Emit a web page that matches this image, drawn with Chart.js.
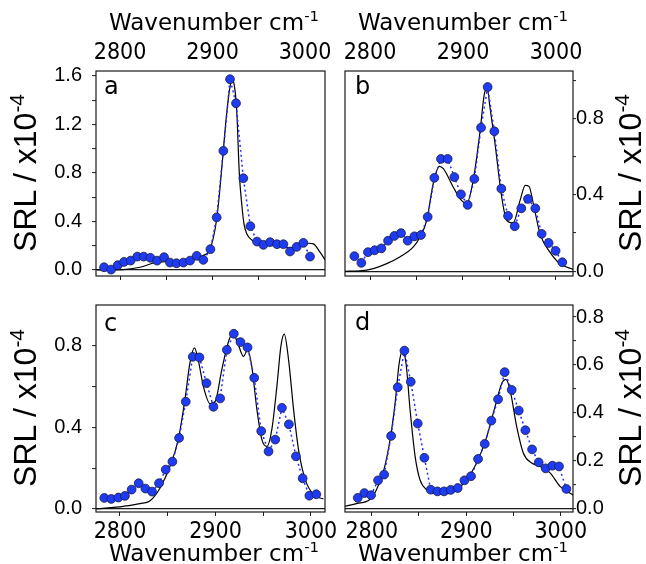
<!DOCTYPE html>
<html>
<head>
<meta charset="utf-8">
<script src="https://cdn.jsdelivr.net/npm/chart.js@4.4.1/dist/chart.umd.min.js"></script>
<style>
    body { margin: 0; background: #fff; }
    #wrap { position: relative; width: 646px; height: 564px; overflow: hidden; }
    canvas { position: absolute; left: 0; top: 0; }
    .xt { position: absolute; font-family: "DejaVu Sans"; font-size: 23px; line-height: 23px; white-space: nowrap; transform: translateX(-50%); color: #000; }
    .yt { position: absolute; font-family: "Liberation Sans"; font-size: 32px; line-height: 32px; white-space: nowrap; transform: translate(-50%, -50%) rotate(-90deg); color: #000; }
    .sup { font-size: 0.65em; position: relative; top: -0.6em; }
    .lab { position: absolute; font-family: "DejaVu Sans"; font-size: 24px; line-height: 24px; color: #000; }
</style>
</head>
<body>
<div id="wrap">
    <canvas id="pa" width="646" height="564"></canvas>
    <canvas id="pb" width="646" height="564"></canvas>
    <canvas id="pc" width="646" height="564"></canvas>
    <canvas id="pd" width="646" height="564"></canvas>

    <div class="xt" style="left:214px;top:11px">Wavenumber cm<span class="sup">-1</span></div>
    <div class="xt" style="left:463px;top:11px">Wavenumber cm<span class="sup">-1</span></div>
    <div class="xt" style="left:214px;top:542px">Wavenumber cm<span class="sup">-1</span></div>
    <div class="xt" style="left:463px;top:542px">Wavenumber cm<span class="sup">-1</span></div>

    <div class="yt" style="left:27px;top:173px">SRL / x10<span class="sup">-4</span></div>
    <div class="yt" style="left:632px;top:173px">SRL / x10<span class="sup">-4</span></div>
    <div class="yt" style="left:27px;top:408px">SRL / x10<span class="sup">-4</span></div>
    <div class="yt" style="left:632px;top:408px">SRL / x10<span class="sup">-4</span></div>

    <div class="lab" style="left:104px;top:74px">a</div>
    <div class="lab" style="left:355px;top:74px">b</div>
    <div class="lab" style="left:104px;top:311px">c</div>
    <div class="lab" style="left:355px;top:310px">d</div>
</div>

<script>
// x ticks (cm-1) shared by all panels
const xTicks = [2800, 2850, 2900, 2950, 3000];
const xLabels = [2800, 2900, 3000];

// panel a
const waveA = [2782.7, 2790.3, 2797.5, 2804.3, 2811.5, 2818.7, 2825.6, 2832.8, 2840.0, 2847.6, 2854.0, 2861.0, 2868.5, 2875.7, 2882.9, 2890.0,
    2897.7, 2904.5, 2911.7, 2918.9, 2925.4, 2933.3, 2940.9, 2948.1, 2955.0, 2962.2, 2969.7, 2976.6, 2983.8, 2991.0, 2998.2, 3005.4];
const srlA = [0.022, 0.003, 0.039, 0.066, 0.077, 0.11, 0.11, 0.10, 0.077, 0.105, 0.061, 0.055, 0.061, 0.077, 0.116, 0.083,
    0.171, 0.433, 0.982, 1.572, 1.374, 0.756, 0.361, 0.234, 0.207, 0.229, 0.212, 0.212, 0.152, 0.19, 0.223, 0.11];
const fitXA = [2775, 2803.6, 2821.6, 2839.6, 2857.7, 2875.7, 2890.1, 2897.3, 2904.5, 2908.1, 2911.7, 2915.3, 2918.9, 2921.4, 2923.6, 2926.1,
    2929.0, 2931.5, 2934.0, 2936.9, 2940.5, 2947.7, 2955.0, 2969.4, 2983.8, 2994.6, 3003.6, 3009.0, 3016.2, 3023.4];
const fitYA = [0, 0.003, 0.022, 0.063, 0.069, 0.083, 0.12, 0.17, 0.42, 0.68, 0.99, 1.29, 1.51, 1.56, 1.52, 1.32,
    0.79, 0.55, 0.38, 0.30, 0.26, 0.22, 0.21, 0.215, 0.18, 0.20, 0.22, 0.215, 0.146, 0.063];
const yTicksA = [0, 0.2, 0.4, 0.6, 0.8, 1.0, 1.2, 1.4, 1.6];
const yLabelsA = [0, 0.4, 0.8, 1.2, 1.6];

// panel b
const waveB = [2783.2, 2790.7, 2797.8, 2805.0, 2812.2, 2819.4, 2826.2, 2833.3, 2840.5, 2847.7, 2854.8, 2862.0, 2869.2, 2876.3, 2883.5, 2890.7,
    2897.8, 2905.0, 2912.2, 2919.4, 2926.5, 2933.7, 2941.2, 2948.4, 2955.6, 2962.7, 2969.9, 2977.8, 2984.6, 2992.1, 2999.6, 3006.8];
const srlB = [0.079, 0.044, 0.10, 0.11, 0.12, 0.16, 0.185, 0.20, 0.16, 0.183, 0.19, 0.285, 0.49, 0.589, 0.589, 0.494,
    0.403, 0.348, 0.484, 0.753, 0.966, 0.734, 0.433, 0.29, 0.236, 0.33, 0.379, 0.33, 0.196, 0.148, 0.107, 0.047];
const fitXB = [2773, 2789, 2803.6, 2818, 2832, 2846.6, 2853.8, 2861, 2868, 2874.5, 2878.9, 2889.6, 2898.6, 2904, 2911, 2918,
    2923, 2926, 2929, 2934, 2941.6, 2947, 2954, 2961.3, 2967, 2971, 2975.6, 2982.8, 2993.5, 3004, 3018.6];
const fitYB = [0, 0.002, 0.014, 0.04, 0.075, 0.128, 0.18, 0.267, 0.46, 0.55, 0.538, 0.44, 0.37, 0.355, 0.477, 0.72,
    0.93, 0.96, 0.86, 0.686, 0.39, 0.267, 0.253, 0.37, 0.45, 0.445, 0.355, 0.197, 0.10, 0.04, 0.009];
const yTicksB = [0, 0.2, 0.4, 0.6, 0.8, 1.0];
const yLabelsB = [0, 0.4, 0.8];

// panel c
const waveC = [2783.6, 2790.9, 2798.3, 2805.2, 2812.2, 2819.6, 2826.6, 2833.6, 2840.9, 2847.9, 2854.9, 2861.9, 2868.9, 2876.2, 2883.2, 2890.6,
    2897.9, 2904.9, 2911.9, 2919.2, 2926.2, 2933.6, 2940.6, 2947.9, 2955.6, 2962.6, 2969.6, 2976.9, 2984.3, 2991.3, 2998.3, 3005.6];
const srlC = [0.054, 0.049, 0.056, 0.064, 0.095, 0.126, 0.10, 0.085, 0.126, 0.193, 0.232, 0.348, 0.526, 0.746, 0.743, 0.617,
    0.501, 0.542, 0.78, 0.859, 0.818, 0.792, 0.643, 0.382, 0.282, 0.34, 0.496, 0.415, 0.258, 0.15, 0.065, 0.072];
const fitXC = [2775.5, 2803.5, 2821, 2831.5, 2842, 2852.4, 2861, 2868, 2873.4, 2878, 2882, 2887.4, 2894.4, 2899.7, 2906.6, 2913.6, 2918.2,
    2924, 2929.4, 2933.6, 2938, 2943.4, 2948.6, 2953.8, 2959, 2964.3, 2968.5, 2972, 2976.6, 2981.8, 2987, 2994, 3002.8, 3013];
const fitYC = [0, 0.013, 0.026, 0.04, 0.103, 0.209, 0.34, 0.535, 0.72, 0.79, 0.73, 0.60, 0.516, 0.527, 0.682, 0.82, 0.862,
    0.804, 0.748, 0.78, 0.70, 0.487, 0.34, 0.307, 0.389, 0.60, 0.797, 0.857, 0.73, 0.487, 0.29, 0.144, 0.07, 0.049];
const yTicksC = [0, 0.2, 0.4, 0.6, 0.8];
const yLabelsC = [0, 0.4, 0.8];

// panel d
const waveD = [2785.2, 2792.2, 2799.3, 2806.7, 2813.1, 2820.5, 2827.5, 2834.6, 2841.3, 2848.7, 2855.7, 2862.4, 2869.5, 2876.5, 2883.6, 2891.0,
    2898.1, 2905.1, 2912.5, 2919.6, 2926.6, 2933.7, 2940.7, 2948.1, 2955.6, 2962.6, 2969.7, 2976.7, 2984.1, 2991.2, 2998.2, 3006.0];
const srlD = [0.046, 0.066, 0.057, 0.119, 0.143, 0.304, 0.507, 0.66, 0.53, 0.356, 0.213, 0.08, 0.073, 0.073, 0.079, 0.087,
    0.119, 0.136, 0.208, 0.271, 0.368, 0.457, 0.57, 0.496, 0.41, 0.328, 0.248, 0.194, 0.169, 0.18, 0.177, 0.083];
const fitXD = [2771.8, 2784, 2798, 2805, 2812, 2819.4, 2824.7, 2829, 2832.5, 2836.3, 2840.6, 2845.9, 2851, 2858.2, 2868.8, 2879.4,
    2890, 2900.5, 2911, 2921.7, 2930.5, 2937.6, 2942, 2946.4, 2953.4, 2960.5, 2969.3, 2978, 2988.7, 2999.3, 3013.4];
const fitYD = [0.011, 0.022, 0.039, 0.08, 0.15, 0.288, 0.44, 0.606, 0.66, 0.606, 0.412, 0.219, 0.122, 0.08, 0.064, 0.064,
    0.08, 0.122, 0.191, 0.30, 0.426, 0.523, 0.54, 0.495, 0.343, 0.232, 0.191, 0.177, 0.15, 0.094, 0.057];
const yTicksD = [0, 0.1, 0.2, 0.3, 0.4, 0.5, 0.6, 0.7, 0.8];
const yLabelsD = [0, 0.2, 0.4, 0.6, 0.8];


const pts = (xs, ys) => xs.map((x, i) => ({ x: x, y: ys[i] }));
const near = (list, v) => list.some(t => Math.abs(t - v) < 1e-6);

function noPad(s) {
    s.paddingLeft = 0; s.paddingRight = 0; s.paddingTop = 0; s.paddingBottom = 0;
}

// box round the plot area
const frame = {
    id: 'frame',
    beforeDatasetsDraw(chart) {
        const a = chart.chartArea, c = chart.ctx;
        c.save();
        c.strokeStyle = '#1a1a1a';
        c.lineWidth = 1.2;
        c.strokeRect(a.left, a.top, a.right - a.left, a.bottom - a.top);
        c.restore();
    }
};

const xFont = { family: 'DejaVu Sans Condensed', size: 23, lineHeight: 1 };
const yFont = { family: 'Liberation Sans', size: 20, lineHeight: 1 };

function panel(id, p) {
    const scales = {
        x: {
            type: 'linear', position: 'bottom', min: p.xMin, max: p.xMax,
            afterBuildTicks: s => { s.ticks = xTicks.map(v => ({ value: v })); },
            ticks: {
                display: p.bottom, autoSkip: false, maxRotation: 0, padding: 5, color: '#000', font: xFont,
                callback: v => near(xLabels, v) ? String(v) : ''
            },
            grid: { drawOnChartArea: false, tickLength: 4, tickColor: '#1a1a1a', tickWidth: 1 },
            border: { display: false },
            afterFit: s => { s.height = p.bottom ? 40 : 4; noPad(s); }
        },
        y: {
            type: 'linear', position: p.side, min: p.yMin, max: p.yMax,
            afterBuildTicks: s => { s.ticks = p.yTicks.map(v => ({ value: v })); },
            ticks: {
                autoSkip: false, padding: p.side === 'left' ? 10 : 0, color: '#000', font: yFont,
                callback: v => near(p.yLabels, v) ? v.toFixed(1) : ''
            },
            grid: {
                color: c => (c.tick && Math.abs(c.tick.value) < 1e-9) ? '#1a1a1a' : 'rgba(0,0,0,0)',
                lineWidth: 1.2, tickColor: '#1a1a1a', tickWidth: 1,
                tickLength: p.side === 'left' ? 4 : 3
            },
            border: { display: false },
            afterFit: s => { s.width = 50; noPad(s); }
        }
    };
    if (p.top) {
        scales.x2 = {
            type: 'linear', position: 'top', display: true, min: p.xMin, max: p.xMax,
            afterBuildTicks: s => { s.ticks = xLabels.map(v => ({ value: v })); },
            ticks: { autoSkip: false, maxRotation: 0, padding: -2, color: '#000', font: xFont, callback: v => String(v) },
            grid: { display: false },
            border: { display: false },
            afterFit: s => { s.height = 30; noPad(s); }
        };
    }

    return new Chart(document.getElementById(id), {
        type: 'scatter',
        data: {
            datasets: [
                {
                    data: pts(p.wave, p.srl), showLine: true,
                    borderColor: '#1f2dff', borderWidth: 1.5, borderDash: [2, 3],
                    pointRadius: 4.4, pointBackgroundColor: '#1f3cf5', pointBorderColor: '#1b1b3a', pointBorderWidth: 0.8
                },
                {
                    data: pts(p.fitX, p.fitY), showLine: true,
                    borderColor: '#000', borderWidth: 1.2, pointRadius: 0,
                    cubicInterpolationMode: 'monotone'
                }
            ]
        },
        options: {
            responsive: false, animation: false, devicePixelRatio: 1,
            layout: { padding: p.pad },
            plugins: { legend: { display: false }, tooltip: { enabled: false } },
            scales: scales
        },
        plugins: [frame]
    });
}

panel('pa', {
    wave: waveA, srl: srlA, fitX: fitXA, fitY: fitYA, yTicks: yTicksA, yLabels: yLabelsA,
    xMin: 2774, xMax: 3021.6, yMin: -0.05, yMax: 1.64, side: 'left', top: true, bottom: false,
    pad: { left: 46, right: 321, top: 41, bottom: 284 }
});
panel('pb', {
    wave: waveB, srl: srlB, fitX: fitXB, fitY: fitYB, yTicks: yTicksB, yLabels: yLabelsB,
    xMin: 2773.1, xMax: 3018.3, yMin: -0.025, yMax: 1.05, side: 'right', top: true, bottom: false,
    pad: { left: 345, right: 23, top: 41, bottom: 284 }
});
panel('pc', {
    wave: waveC, srl: srlC, fitX: fitXC, fitY: fitYC, yTicks: yTicksC, yLabels: yLabelsC,
    xMin: 2774.9, xMax: 3014.7, yMin: -0.015, yMax: 1.0, side: 'left', top: false, bottom: true,
    pad: { left: 46, right: 321, top: 305, bottom: 12 }
});
panel('pd', {
    wave: waveD, srl: srlD, fitX: fitXD, fitY: fitYD, yTicks: yTicksD, yLabels: yLabelsD,
    xMin: 2771.7, xMax: 3013, yMin: -0.013, yMax: 0.85, side: 'right', top: false, bottom: true,
    pad: { left: 345, right: 23, top: 305, bottom: 12 }
});
</script>
</body>
</html>
